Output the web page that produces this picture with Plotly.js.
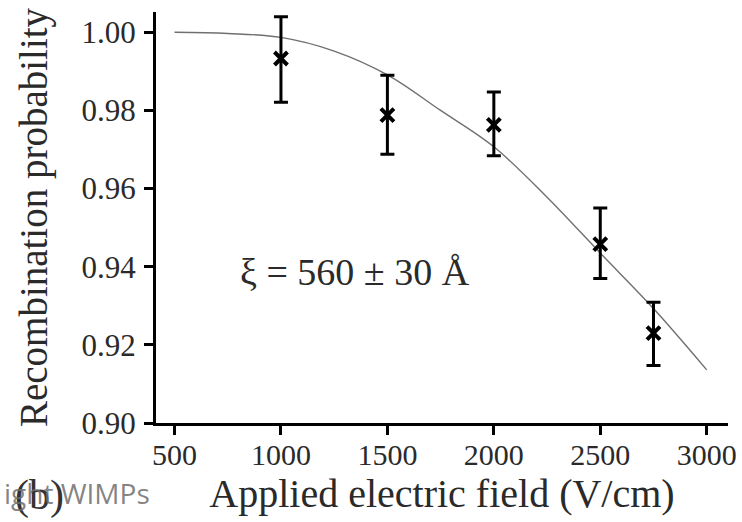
<!DOCTYPE html>
<html>
<head>
<meta charset="utf-8">
<script src="https://cdn.plot.ly/plotly-3.0.1.min.js"></script>
<style>html,body{margin:0;padding:0;background:#fff;}#chart{width:742px;height:522px;}</style>
</head>
<body>
<div id="chart"></div>
<script>
// Measured points
var fieldX = [1000, 1500, 2000, 2500, 2750];
var probY = [0.9933, 0.9788, 0.9763, 0.9458, 0.9230];
var errPlus = [0.0107, 0.0102, 0.0084, 0.0092, 0.0079];
var errMinus = [0.0112, 0.0100, 0.0079, 0.0088, 0.0083];

// Fitted curve
var fitX = [500, 750, 1000, 1250, 1500, 1750, 2000, 2250, 2500, 2750, 3000];
var fitY = [1.0000, 0.9997, 0.9987, 0.9952, 0.9891, 0.9800, 0.9707, 0.9578, 0.9435, 0.9293, 0.9136];

var xTicks = [500, 1000, 1500, 2000, 2500, 3000];
var yTicks = [0.90, 0.92, 0.94, 0.96, 0.98, 1.00];
var yTickText = ['0.90', '0.92', '0.94', '0.96', '0.98', '1.00'];

var serif = 'Liberation Serif';

var traces = [
  {
    x: fitX, y: fitY, type: 'scatter', mode: 'lines',
    line: {color: '#707070', width: 1.4, shape: 'spline', smoothing: 1},
    hoverinfo: 'skip', showlegend: false
  },
  {
    x: fieldX, y: probY, type: 'scatter', mode: 'markers',
    marker: {symbol: 'x-thin', size: 13, color: '#000', line: {color: '#000', width: 4}},
    error_y: {type: 'data', symmetric: false, array: errPlus, arrayminus: errMinus,
              color: '#000', thickness: 3, width: 7},
    showlegend: false
  }
];

var layout = {
  width: 742, height: 522,
  margin: {l: 156, r: 14, t: 12, b: 99},
  paper_bgcolor: '#fff', plot_bgcolor: '#fff',
  showlegend: false,
  xaxis: {
    range: [413, 3100], tickvals: xTicks, ticktext: xTicks.map(String),
    showgrid: false, zeroline: false, showline: true, linecolor: '#000', linewidth: 3,
    ticks: 'outside', ticklen: 9, tickwidth: 3, tickcolor: '#000',
    ticklabelstandoff: -6,
    tickfont: {family: serif, size: 30, color: '#2a2a2a'},
    title: {text: 'Applied electric field (V/cm)\u00a0\u00a0', font: {family: serif, size: 40, color: '#2a2a2a'}, standoff: 6}
  },
  yaxis: {
    range: [0.9, 1.0052], tickvals: yTicks, ticktext: yTickText,
    showgrid: false, zeroline: false, showline: true, linecolor: '#000', linewidth: 3,
    ticks: 'outside', ticklen: 9, tickwidth: 3, tickcolor: '#000',
    ticklabelstandoff: 2,
    tickfont: {family: serif, size: 31, color: '#2a2a2a'},
    title: {text: 'Recombination probability', font: {family: serif, size: 39, color: '#2a2a2a'}, standoff: 22}
  },
  annotations: [
    {x: 1350, y: 0.9386, xref: 'x', yref: 'y', text: 'ξ = 560 ± 30 Å', showarrow: false,
     font: {family: serif, size: 38, color: '#2a2a2a'}},
    {x: -0.2045, y: -0.177, xref: 'paper', yref: 'paper', xanchor: 'center', yanchor: 'middle',
     text: '(b)', showarrow: false,
     font: {family: serif, size: 42, color: '#333'}},
    {x: -0.2692, y: -0.170, xref: 'paper', yref: 'paper', xanchor: 'left', yanchor: 'middle',
     text: 'ight WIMPs', showarrow: false,
     font: {family: 'Open Sans', size: 28, color: 'rgba(110,110,110,0.85)'}}
  ]
};

Plotly.newPlot('chart', traces, layout, {displayModeBar: false, staticPlot: true});
</script>
</body>
</html>
